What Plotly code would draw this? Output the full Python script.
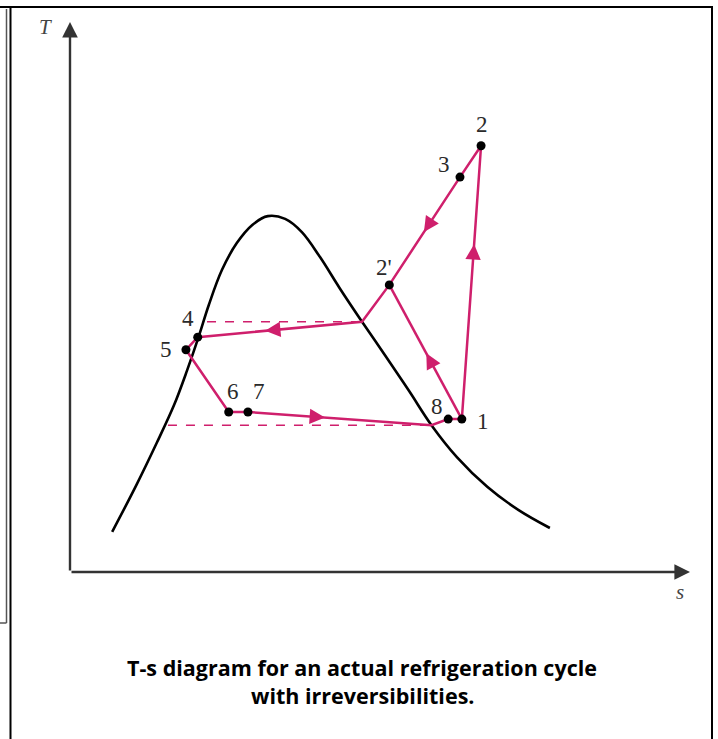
import plotly.graph_objects as go

# Saturation dome (entropy s, temperature T), arbitrary units
dome_s = [0.68, 1.07, 1.40, 1.68, 1.89, 2.07, 2.24, 2.45, 2.69, 2.94, 3.19,
          3.47, 3.74, 4.03, 4.35, 4.71, 5.10, 5.47, 5.83, 6.24, 6.73, 7.23, 7.74]
dome_T = [0.73, 1.58, 2.35, 3.04, 3.67, 4.26, 4.86, 5.49, 5.98, 6.31, 6.47,
          6.42, 6.18, 5.73, 5.16, 4.55, 3.91, 3.29, 2.67, 2.09, 1.55, 1.13, 0.80]

# Cycle state points
state_names = ["1", "2", "3", "2'", "4", "5", "6", "7", "8"]
state_s = [6.32, 6.63, 6.29, 5.15, 2.06, 1.87, 2.56, 2.87, 6.10]
state_T = [2.78, 7.75, 7.18, 5.22, 4.27, 4.04, 2.91, 2.91, 2.78]

# Points where the cycle meets the dome
cond_sat = (4.71, 4.55)   # saturated vapour at condenser pressure
evap_sat = (5.83, 2.67)   # saturated vapour at evaporator pressure

# Saturation temperature lines (dashed)
cond_line_s = [2.21, 4.71]
cond_line_T = [4.55, 4.55]
evap_line_s = [1.58, 5.83]
evap_line_T = [2.67, 2.67]

PINK = "#cf1f6c"
DARK = "#333333"

pt = {n: (s, t) for n, s, t in zip(state_names, state_s, state_T)}

# Cycle path: 1-2-3-2'-(sat)-4-5-6-7-(sat)-8-1
path = [pt["1"], pt["2"], pt["3"], pt["2'"], cond_sat, pt["4"], pt["5"],
        pt["6"], pt["7"], evap_sat, pt["8"], pt["1"]]
path_s = [p[0] for p in path]
path_T = [p[1] for p in path]

fig = go.Figure()

fig.add_trace(go.Scatter(x=dome_s, y=dome_T, mode="lines",
                         line=dict(color="black", width=2.6, shape="spline", smoothing=1.0),
                         hoverinfo="skip"))
for xs, ys in [(cond_line_s, cond_line_T), (evap_line_s, evap_line_T)]:
    fig.add_trace(go.Scatter(x=xs, y=ys, mode="lines",
                             line=dict(color=PINK, width=1.5, dash="dash"),
                             hoverinfo="skip"))
fig.add_trace(go.Scatter(x=path_s, y=path_T, mode="lines",
                         line=dict(color=PINK, width=2.5), hoverinfo="skip"))
# 1 -> 2' branch
fig.add_trace(go.Scatter(x=[pt["1"][0], pt["2'"][0]], y=[pt["1"][1], pt["2'"][1]],
                         mode="lines", line=dict(color=PINK, width=2.5), hoverinfo="skip"))
fig.add_trace(go.Scatter(x=state_s, y=state_T, mode="markers",
                         marker=dict(color="black", size=9), hoverinfo="skip"))

# Direction arrows along the process lines: (start, end, fraction of the way)
flow_arrows = [
    (pt["1"], pt["2"], 0.64),
    (pt["3"], pt["2'"], 0.51),
    (pt["1"], pt["2'"], 0.49),
    (cond_sat, pt["4"], 0.59),
    (pt["5"], pt["6"], 0.52),
    (pt["7"], evap_sat, 0.42),
]
for a, b, f in flow_arrows:
    tip = (a[0] + (b[0] - a[0]) * f, a[1] + (b[1] - a[1]) * f)
    g = f - 0.06
    tail = (a[0] + (b[0] - a[0]) * g, a[1] + (b[1] - a[1]) * g)
    fig.add_annotation(x=tip[0], y=tip[1], ax=tail[0], ay=tail[1],
                       xref="x", yref="y", axref="x", ayref="y", text="",
                       showarrow=True, arrowhead=2, arrowsize=1.4,
                       arrowwidth=2.2, arrowcolor=PINK, standoff=0)

# State labels, offset in pixels from each point
label_shift = {"1": (21, -2), "2": (1, 21), "3": (-16, 13), "2'": (-5, 17),
               "4": (-10, 19), "5": (-20, 0), "6": (4, 20), "7": (11, 20),
               "8": (-11, 13)}
for n in state_names:
    dx, dy = label_shift[n]
    fig.add_annotation(x=pt[n][0], y=pt[n][1], text=n, showarrow=False,
                       xshift=dx, yshift=dy,
                       font=dict(family="Liberation Serif", size=23, color="#2a2a2a"))

# Axes drawn as arrows
S_MAX, T_MAX = 10, 10
for tip in [(0, T_MAX), (S_MAX, 0)]:
    fig.add_annotation(x=tip[0], y=tip[1], ax=0, ay=0, xref="x", yref="y",
                       axref="x", ayref="y", text="", showarrow=True, arrowhead=2,
                       arrowsize=1.3, arrowwidth=2.4, arrowcolor=DARK, standoff=0)
fig.add_annotation(x=0, y=T_MAX, text="<i>T</i>", showarrow=False, xshift=-25, yshift=-5,
                   font=dict(family="Liberation Serif", size=21, color="#444"))
fig.add_annotation(x=S_MAX, y=0, text="<i>s</i>", showarrow=False, xshift=-10, yshift=-20,
                   font=dict(family="Liberation Serif", size=21, color="#444"))

# Page layout in pixels
W, H = 718, 739
L, R, TOP, BOT = 70, 28, 22, 167
PW, PH = W - L - R, H - TOP - BOT


def px(x):
    return (x - L) / PW


def py(y):
    return (H - BOT - y) / PH


frame = [
    (0, 7, 713, 7, "black", 2),
    (712, 7, 712, 739, "black", 2),
    (10.5, 7, 10.5, 739, "black", 2),
    (6.5, 9, 6.5, 623, "#555", 1.5),
    (0, 623, 6.5, 623, "#555", 1.5),
]
for x0, y0, x1, y1, c, w in frame:
    fig.add_shape(type="line", xref="paper", yref="paper",
                  x0=px(x0), y0=py(y0), x1=px(x1), y1=py(y1),
                  line=dict(color=c, width=w))

caption = ["T-s diagram for an actual refrigeration cycle", "with irreversibilities."]
for line, yc in zip(caption, [667, 695]):
    fig.add_annotation(xref="paper", yref="paper", x=px(362), y=py(yc),
                       xanchor="center", yanchor="middle",
                       text=f"<b>{line}</b>", showarrow=False,
                       font=dict(family="Open Sans", size=21.5, color="black"))

fig.update_layout(
    width=W, height=H, margin=dict(l=L, r=R, t=TOP, b=BOT),
    paper_bgcolor="white", plot_bgcolor="white", showlegend=False,
    xaxis=dict(range=[0, S_MAX], visible=False, fixedrange=True),
    yaxis=dict(range=[0, T_MAX], visible=False, fixedrange=True),
)

fig.write_html("out.html")
